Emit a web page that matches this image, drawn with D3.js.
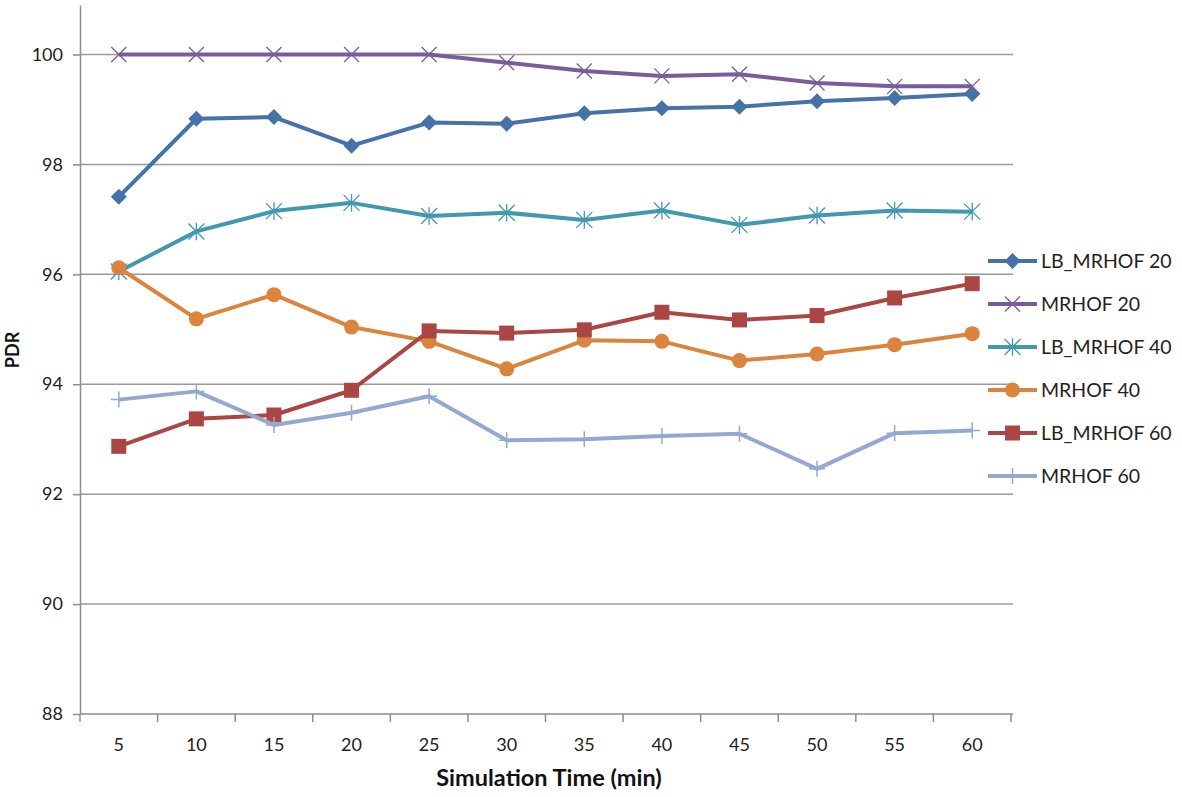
<!DOCTYPE html>
<html><head><meta charset="utf-8">
<script src="https://cdn.jsdelivr.net/npm/d3@7"></script>
<style>body{margin:0;background:#fff}svg{display:block}</style>
</head><body>
<svg id="c" width="1182" height="797"></svg>
<script>
const categories = [5,10,15,20,25,30,35,40,45,50,55,60];
const yTicks = [88,90,92,94,96,98,100];
const lbMrhof20 = [97.41,98.83,98.86,98.34,98.76,98.74,98.93,99.02,99.05,99.15,99.21,99.28];
const mrhof20   = [100,100,100,100,100,99.85,99.70,99.61,99.64,99.48,99.42,99.42];
const lbMrhof40 = [96.05,96.78,97.15,97.30,97.06,97.12,96.99,97.16,96.90,97.07,97.16,97.14];
const mrhof40   = [96.12,95.19,95.63,95.04,94.78,94.28,94.80,94.78,94.43,94.55,94.72,94.92];
const lbMrhof60 = [92.87,93.37,93.44,93.89,94.97,94.93,94.99,95.31,95.17,95.25,95.57,95.83];
const mrhof60   = [93.72,93.87,93.26,93.48,93.78,92.98,93.00,93.06,93.10,92.46,93.11,93.16];
const seriesNames = ["LB_MRHOF 20","MRHOF 20","LB_MRHOF 40","MRHOF 40","LB_MRHOF 60","MRHOF 60"];
const seriesValues = [lbMrhof20, mrhof20, lbMrhof40, mrhof40, lbMrhof60, mrhof60];
const colors = ["#4572A7","#7A5C9A","#4198AF","#DB843D","#AA4643","#93A9CF"];
const markers = ["diamond","x","star","circle","square","plus"];

const svg = d3.select("#c");
const L = 80, R = 1011, T = 5, B = 714;
const x = d3.scaleBand().domain(categories).range([L, R]);
const y = d3.scaleLinear().domain([88, 100.9]).range([B, T]);
const font = "Lato, 'Open Sans', sans-serif";

// gridlines
svg.append("g").selectAll("line").data(yTicks.filter(d => d > 88)).join("line")
  .attr("x1", L).attr("x2", R + 2).attr("y1", d => y(d)).attr("y2", d => y(d))
  .attr("stroke", "#9a9a9a").attr("stroke-width", 1.5);

// y axis
const yAxis = svg.append("g").attr("transform", `translate(${L},0)`)
  .call(d3.axisLeft(y).tickValues(yTicks).tickSize(7).tickPadding(10).tickSizeOuter(0));
yAxis.select(".domain").attr("stroke", "#8c8c8c").attr("stroke-width", 1.5);
yAxis.selectAll(".tick line").attr("stroke", "#8c8c8c").attr("stroke-width", 1.5);
yAxis.selectAll("text").attr("font-family", font).attr("font-size", 18).attr("fill", "#222");

// x axis
const xg = svg.append("g").attr("transform", `translate(0,${B})`);
xg.append("line").attr("x1", L).attr("x2", R + 2).attr("stroke", "#8c8c8c").attr("stroke-width", 1.5);
const bounds = categories.map(c => x(c)).concat([x(categories[categories.length-1]) + x.bandwidth()]);
xg.selectAll("line.t").data(bounds).join("line").attr("class","t")
  .attr("x1", d => d).attr("x2", d => d).attr("y1", 0).attr("y2", 8)
  .attr("stroke", "#8c8c8c").attr("stroke-width", 1.5);
xg.selectAll("text").data(categories).join("text")
  .attr("x", d => x(d) + x.bandwidth()/2).attr("y", 37)
  .attr("text-anchor", "middle").attr("font-family", font).attr("font-size", 18).attr("fill", "#222")
  .text(d => d);

// axis titles
svg.append("text").attr("x", 549).attr("y", 786).attr("text-anchor", "middle")
  .attr("font-family", font).attr("font-weight", "bold").attr("font-size", 23.5).attr("fill", "#111")
  .text("Simulation Time (min)");
svg.append("text").attr("transform", "translate(19,350) rotate(-90)").attr("text-anchor", "middle")
  .attr("font-family", font).attr("font-weight", "bold").attr("font-size", 18).attr("fill", "#111")
  .text("PDR");

function drawMarker(g, type, color, cx, cy, scale) {
  const s = scale || 1;
  if (type === "diamond") {
    const r = 8 * s;
    g.append("path").attr("d", `M${cx},${cy-r}L${cx+r},${cy}L${cx},${cy+r}L${cx-r},${cy}Z`).attr("fill", color);
  } else if (type === "x") {
    const r = 7.5 * s;
    g.append("path").attr("d", `M${cx-r},${cy-r}L${cx+r},${cy+r}M${cx-r},${cy+r}L${cx+r},${cy-r}`)
      .attr("stroke", color).attr("stroke-width", 1.3).attr("fill", "none");
  } else if (type === "star") {
    const r = 8 * s;
    g.append("path").attr("d", `M${cx-r},${cy-r}L${cx+r},${cy+r}M${cx-r},${cy+r}L${cx+r},${cy-r}M${cx},${cy-r*1.1}L${cx},${cy+r*1.1}`)
      .attr("stroke", color).attr("stroke-width", 1.3).attr("fill", "none");
  } else if (type === "circle") {
    g.append("circle").attr("cx", cx).attr("cy", cy).attr("r", 7.5 * s).attr("fill", color);
  } else if (type === "square") {
    const r = 7.5 * s;
    g.append("rect").attr("x", cx - r).attr("y", cy - r).attr("width", 2*r).attr("height", 2*r).attr("fill", color);
  } else if (type === "plus") {
    const r = 8 * s;
    g.append("path").attr("d", `M${cx},${cy-r}L${cx},${cy+r}M${cx-r},${cy}L${cx+r},${cy}`)
      .attr("stroke", color).attr("stroke-width", 1.5).attr("fill", "none");
  }
}

const line = d3.line().x((d, i) => x(categories[i]) + x.bandwidth()/2).y(d => y(d));
seriesValues.forEach((vals, si) => {
  const g = svg.append("g");
  g.append("path").datum(vals).attr("d", line).attr("fill", "none")
    .attr("stroke", colors[si]).attr("stroke-width", 4).attr("stroke-linejoin", "round");
  vals.forEach((v, i) => drawMarker(g, markers[si], colors[si], x(categories[i]) + x.bandwidth()/2, y(v), 1));
});

// legend
const lg = svg.append("g");
seriesNames.forEach((name, i) => {
  const ly = 261 + i * 43;
  lg.append("line").attr("x1", 988).attr("x2", 1037).attr("y1", ly).attr("y2", ly)
    .attr("stroke", colors[i]).attr("stroke-width", 4);
  drawMarker(lg, markers[i], colors[i], 1012.5, ly, 1);
  lg.append("text").attr("x", 1041).attr("y", ly + 7).attr("font-family", font).attr("font-size", 19.5)
    .attr("fill", "#222").text(name);
});
</script>
</body></html>
